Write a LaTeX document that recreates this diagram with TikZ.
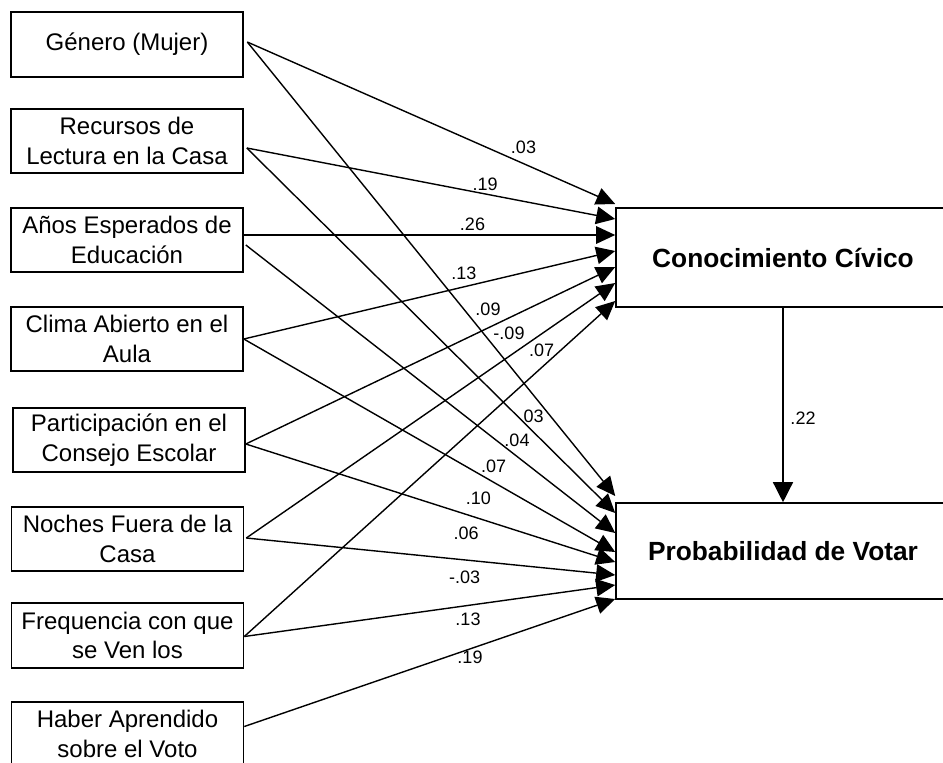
\documentclass[tikz,border=0pt]{standalone}
\usepackage{fontspec}
\setmainfont{Liberation Sans}
\usetikzlibrary{arrows.meta,calc}
\begin{document}
\begin{tikzpicture}[x=1pt,y=-1pt,
  box/.style={draw, line width=1.6pt, minimum width=232pt, minimum height=64pt, align=center,
    font=\fontsize{24}{29.5}\selectfont, inner sep=0pt},
  big/.style={draw, line width=1.6pt, minimum width=334pt, inner sep=0pt,
    font=\fontsize{26.3}{30}\selectfont\bfseries},
  arr/.style={-{Triangle[length=19pt,width=17.5pt]}, line width=1.4pt},
  lbl/.style={font=\fontsize{18}{20}\selectfont, inner sep=0pt}
]
\useasboundingbox (0,0) rectangle (943,763);

% source boxes
\node[box, minimum height=65pt] (gen) at (127,44.5) {Género (Mujer)};
\node[box] (rec) at (127,141) {Recursos de\\Lectura en la Casa};
\node[box] (ano) at (127,240) {Años Esperados de\\Educación};
\node[box] (cli) at (127,339) {Clima Abierto en el\\Aula};
\node[box] (par) at (129,440) {Participación en el\\Consejo Escolar};
\node[box] (noc) at (127.5,539) {Noches Fuera de la\\Casa};
\node[box, minimum height=65pt] (fre) at (127.5,635.5) {Frequencia con que\\se Ven los};
\node[box] (hab) at (127.5,734) {Haber Aprendido\\sobre el Voto};

% outcome boxes
\node[big, minimum height=99pt] (con) at (783,257.5) {Conocimiento Cívico};
\node[big, minimum height=96pt] (pro) at (783,551) {Probabilidad de Votar};

% paths to Conocimiento Cívico
\draw[arr] ($(gen.east)+(3.5,-2.5)$) -- ($(con.west)+(0,-53.5)$);
\draw[arr] ($(rec.east)+(3,7)$) -- ($(con.west)+(0,-38.5)$);
\draw[arr] ($(ano.east)+(0,-5)$) -- ($(con.west)+(0,-22.5)$);
\draw[arr] (cli.east) -- ($(con.west)+(0,-6.5)$);
\draw[arr] ($(par.east)+(0,4)$) -- ($(con.west)+(0,9.5)$);
\draw[arr] ($(noc.east)+(2,-1)$) -- ($(con.west)+(0,25.5)$);
\draw[arr] ($(fre.east)+(0,1)$) -- ($(con.west)+(0,43.5)$);

% paths to Probabilidad de Votar
\draw[arr] ($(gen.east)+(3.5,-2.5)$) -- ($(pro.west)+(0,-55)$);
\draw[arr] ($(rec.east)+(3,7)$) -- ($(pro.west)+(0,-38)$);
\draw[arr] ($(ano.east)+(2,5)$) -- ($(pro.west)+(0,-18)$);
\draw[arr] (cli.east) -- ($(pro.west)+(0,1)$);
\draw[arr] ($(par.east)+(0,4)$) -- ($(pro.west)+(0,11)$);
\draw[arr] ($(noc.east)+(2,-1)$) -- ($(pro.west)+(0,24)$);
\draw[arr] ($(fre.east)+(0,1)$) -- ($(pro.west)+(0,34)$);
\draw[arr] ($(hab.east)+(0,-7.5)$) -- ($(pro.west)+(0,48)$);

% mediator path
\draw[-{Triangle[length=20pt,width=20pt]}, line width=1.4pt] (con.south) -- (pro.north);

% coefficients
\node[lbl] (c1) at (523.5,147) {.03};
\node[lbl] (c2) at (485.2,184.5) {.19};
\node[lbl] (c3) at (472.5,224.2) {.26};
\node[lbl] (c4) at (463.8,273) {.13};
\node[lbl] (c5) at (488,308.8) {.09};
\node[lbl] (c6) at (509,333.3) {-.09};
\node[lbl] (c7) at (541.7,350.7) {.07};
\node[lbl] (p1) at (533.7,415.8) {03};
\node[lbl] (p2) at (517,440.3) {.04};
\node[lbl] (p3) at (493.7,466.7) {.07};
\node[lbl] (p4) at (478.3,497.8) {.10};
\node[lbl] (p5) at (466.2,533.3) {.06};
\node[lbl] (p6) at (464.7,577.5) {-.03};
\node[lbl] (p7) at (468,619.5) {.13};
\node[lbl] (p8) at (470,657.5) {.19};
\node[lbl] (m1) at (803,418) {.22};
\end{tikzpicture}
\end{document}
